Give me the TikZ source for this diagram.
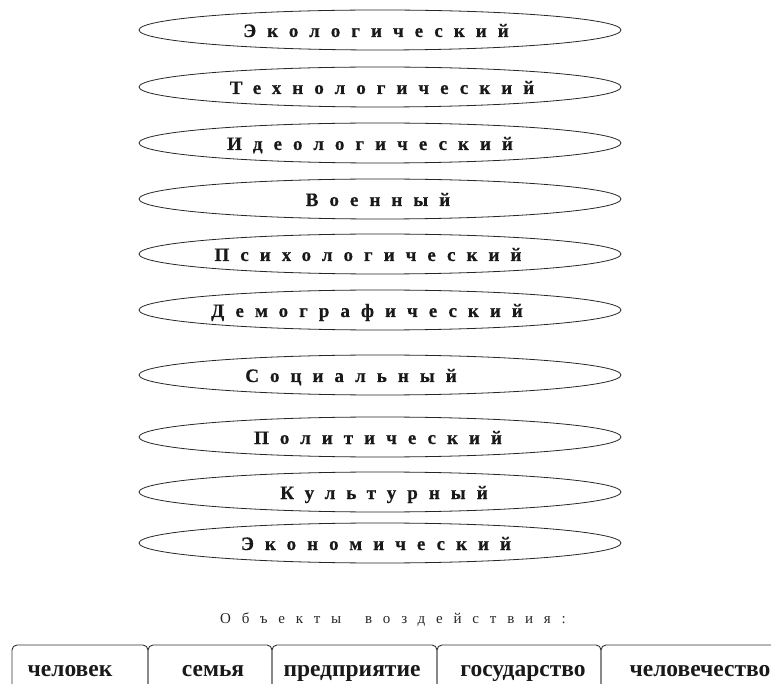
\documentclass[tikz,border=0pt]{standalone}
\usepackage{fontspec}
\setmainfont{Liberation Serif}
\newfontfamily\wideface[LetterSpace=58, BoldFeatures={FakeBold=0.6}]{Liberation Serif}
\newfontfamily\headface[LetterSpace=72]{Liberation Serif}
\usetikzlibrary{shapes.geometric}

\begin{document}
\begin{tikzpicture}[
    x=1pt, y=-1pt,
    layer oval/.style={draw=black!85, ellipse, line width=0.8pt, minimum width=482pt, minimum height=40pt, inner sep=0pt},
    layer word/.style={anchor=base, inner sep=0pt, text=black!90, font=\fontsize{19}{21}\selectfont\wideface\bfseries},
    heading/.style={anchor=base, inner sep=0pt, text=black!85, font=\fontsize{15}{17}\selectfont\headface},
    tab/.style={draw=black!80, line width=0.9pt, rounded corners=5pt},
    tab word/.style={anchor=base, inner sep=0pt, text=black!90, font=\fontsize{23.5}{26}\selectfont\bfseries}
]
    \useasboundingbox (0,0) rectangle (771,684);

    % Spheres of influence
    \foreach \y/\cx/\id/\word in {30/376/ecol/Экологический, 87/382/tech/Технологический,
        143/370/ideo/Идеологический, 199/378/mil/Военный, 254/368/psych/Психологический,
        310/367/demo/Демографический, 375/351/soc/Социальный, 437/378/pol/Политический,
        492/384/cult/Культурный, 543/376/econ/Экономический}
    {
        \node[layer oval] (\id) at (380,\y) {};
        \node[layer word] (\id-word) at ({\cx},{\y+7}) {\word};
    }

    % Heading
    \node[heading] (objects) at (393,623) {Объекты\hspace{24pt}воздействия:};

    % Object tabs
    \begin{scope}
        \clip (0,0) rectangle (771,684);
        \foreach \a/\b in {12/148, 148/272, 272/437, 437/601, 601/800}
            \draw[tab] (\a,645) rectangle (\b,720);
    \end{scope}
    \foreach \cx/\id/\word in {70/person/человек, 213/family/семья, 352/firm/предприятие,
        523/state/государство, 700/mankind/человечество}
        \node[tab word] (\id) at (\cx,676) {\word};
\end{tikzpicture}
\end{document}
